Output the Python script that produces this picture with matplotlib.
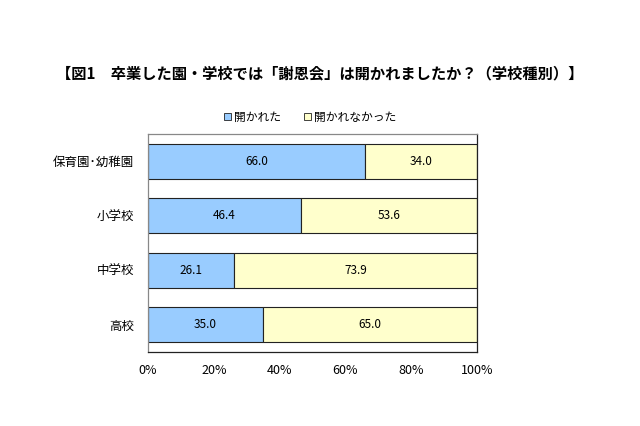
import matplotlib
matplotlib.use("Agg")
import matplotlib.pyplot as plt
from matplotlib.patches import Patch

plt.rcParams['font.family'] = ['Noto Sans CJK JP', 'DejaVu Sans']

# Data
categories = ['保育園･幼稚園', '小学校', '中学校', '高校']
held = [66.0, 46.4, 26.1, 35.0]
not_held = [34.0, 53.6, 73.9, 65.0]
series_names = ['開かれた', '開かれなかった']
title = '【図1　卒業した園・学校では「謝恩会」は開かれましたか？（学校種別）】'

BLUE = '#99CCFF'
YELLOW = '#FFFFCC'

fig = plt.figure(figsize=(6.4, 4.26), dpi=100)
ax = fig.add_axes([148 / 640, 1 - 352 / 426, (477 - 148) / 640, (352 - 134) / 426])

y = list(range(len(categories)))
ax.barh(y, held, height=0.64, color=BLUE, edgecolor='#222222', linewidth=0.8)
ax.barh(y, not_held, left=held, height=0.64, color=YELLOW, edgecolor='#222222', linewidth=0.8)

for i in y:
    ax.text(held[i] / 2, i, f'{held[i]:.1f}', ha='center', va='center', fontsize=8.5)
    ax.text(held[i] + not_held[i] / 2, i, f'{not_held[i]:.1f}', ha='center', va='center', fontsize=8.5)

ax.set_xlim(0, 100)
ax.set_ylim(len(categories) - 0.5, -0.5)
ax.set_yticks(y)
ax.set_yticklabels(categories, fontsize=9)
ax.set_xticks([0, 20, 40, 60, 80, 100])
ax.set_xticklabels(['0%', '20%', '40%', '60%', '80%', '100%'], fontsize=9)
ax.tick_params(length=0, pad=10)
ax.tick_params(axis='x', pad=9)

for side in ['top', 'left']:
    ax.spines[side].set_color('#888888')
for side in ['bottom', 'right']:
    ax.spines[side].set_color('#222222')
for s in ax.spines.values():
    s.set_linewidth(0.9)

fig.text(0.5, 1 - 73 / 426, title, ha='center', va='center', fontsize=11, fontweight='bold')

handles = [Patch(facecolor=BLUE, edgecolor='#222222', linewidth=0.6),
           Patch(facecolor=YELLOW, edgecolor='#222222', linewidth=0.6)]
fig.legend(handles, series_names, loc='center', bbox_to_anchor=(310 / 640, 1 - 117 / 426),
           ncol=2, frameon=False, fontsize=8.5, handlelength=0.6, handleheight=0.6,
           handletextpad=0.2, columnspacing=2.0)

fig.savefig('out.png', dpi=100)
